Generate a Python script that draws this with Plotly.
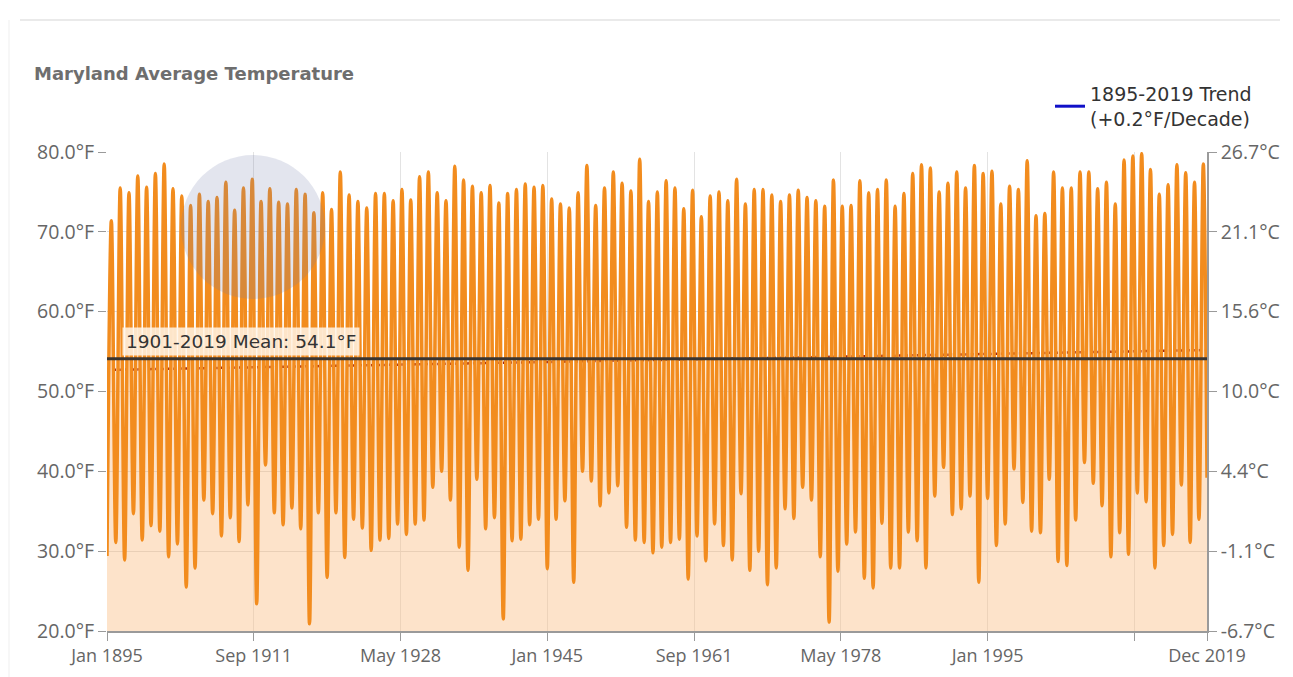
import plotly.graph_objects as go

# ---------------- data ----------------
years = list(range(1895, 2020))

# summer (July) peaks, deg F
july_peak = [
    71.4, 75.5, 74.9, 77.0, 75.6, 77.3, 78.5, 75.4, 74.5, 73.3,
    74.7, 73.8, 74.3, 76.2, 72.7, 75.5, 76.6, 73.8, 75.4, 73.7,
    73.5, 75.3, 74.7, 72.4, 74.9, 72.8, 77.5, 74.6, 73.8, 73.0,
    74.8, 74.8, 73.9, 75.3, 74.0, 76.9, 77.5, 74.9, 73.9, 78.2,
    76.5, 75.7, 74.9, 75.8, 73.6, 74.8, 75.3, 76.0, 75.6, 75.8,
    74.1, 73.5, 73.0, 74.9, 78.3, 73.3, 75.5, 77.5, 76.1, 75.1,
    79.1, 73.8, 75.0, 76.4, 75.5, 72.9, 75.2, 71.9, 74.5, 75.0,
    73.9, 76.6, 73.5, 75.3, 75.3, 74.6, 73.8, 74.6, 75.2, 74.3,
    73.9, 73.2, 76.5, 73.2, 73.3, 76.4, 74.9, 75.3, 76.5, 73.2,
    74.8, 77.3, 78.4, 78.0, 75.0, 76.1, 77.5, 75.5, 78.3, 77.3,
    77.6, 73.5, 75.7, 75.3, 78.9, 72.0, 72.3, 77.5, 75.5, 75.5,
    77.5, 77.5, 75.4, 76.2, 73.5, 79.0, 79.5, 79.8, 77.8, 74.7,
    75.9, 78.4, 77.4, 76.2, 78.5,
]

# winter (January) troughs, deg F
jan_trough = [
    29.4, 31.1, 28.9, 34.7, 31.4, 33.2, 32.5, 29.3, 30.9, 25.5,
    27.9, 36.4, 34.7, 31.9, 34.2, 31.2, 35.8, 23.4, 40.8, 34.8,
    33.3, 35.4, 32.8, 20.9, 34.8, 26.7, 34.8, 29.2, 34.0, 32.9,
    30.1, 31.4, 31.6, 33.4, 32.1, 33.4, 33.9, 38.0, 40.0, 36.4,
    30.5, 27.6, 39.0, 32.8, 34.2, 21.5, 31.3, 31.5, 33.3, 34.0,
    27.8, 34.0, 36.3, 26.1, 40.0, 38.8, 35.7, 37.3, 38.2, 33.0,
    31.4, 31.1, 29.8, 30.5, 31.1, 31.5, 26.5, 31.9, 28.8, 33.4,
    30.7, 28.9, 37.2, 27.6, 30.0, 25.8, 27.9, 35.3, 34.1, 38.0,
    36.4, 29.3, 21.1, 27.5, 30.9, 32.4, 26.6, 25.4, 33.5, 27.9,
    27.9, 32.4, 31.3, 27.9, 36.9, 40.5, 34.6, 35.3, 36.9, 26.1,
    36.6, 30.7, 33.4, 40.3, 36.1, 32.5, 32.3, 39.0, 28.7, 28.2,
    33.9, 41.1, 38.5, 35.7, 29.3, 32.3, 29.6, 37.3, 36.2, 27.9,
    30.7, 32.1, 38.3, 31.1, 34.0,
]

last_month = "2019-12-01"
last_value = 39.2

mean_value = 54.1
mean_label = "1901-2019 Mean: 54.1°F"

trend_dates = ["1895-01-01", "2019-12-01"]
trend_values = [52.7, 55.2]
trend_name = "1895-2019 Trend<br>(+0.2°F/Decade)"

title_text = "Maryland Average Temperature"

x_tick_dates = ["1895-01-01", "1911-09-01", "1928-05-01", "1945-01-01",
                "1961-09-01", "1978-05-01", "1995-01-01", "2011-09-01",
                "2019-12-01"]
x_tick_text = ["Jan 1895", "Sep 1911", "May 1928", "Jan 1945",
               "Sep 1961", "May 1978", "Jan 1995", "", "Dec 2019"]

f_ticks = [20, 30, 40, 50, 60, 70, 80]
f_tick_text = ["20.0°F", "30.0°F", "40.0°F", "50.0°F", "60.0°F", "70.0°F", "80.0°F"]
c_tick_text = ["-6.7°C", "-1.1°C", "4.4°C", "10.0°C", "15.6°C", "21.1°C", "26.7°C"]

# ---------------- build series ----------------
dates, temps = [], []
for y, lo, hi in zip(years, jan_trough, july_peak):
    dates.append(f"{y}-01-01"); temps.append(lo)
    dates.append(f"{y}-07-01"); temps.append(hi)
dates.append(last_month); temps.append(last_value)

# page has an 8px body margin; work in screen pixels and convert
OFF = 8
W, H = 1293, 677
PL, PR, PT, PB = 107, 1207, 152, 631          # plot box in screen pixels
L = PL - OFF
T = PT - OFF
R = W - (PR - OFF)
B = H - (PB - OFF)
pw, ph = PR - PL, PB - PT


def px_x(x):
    return (x - PL) / pw


def px_y(y):
    return (PB - y) / ph


fig = go.Figure()

fig.add_trace(go.Scatter(
    x=trend_dates, y=trend_values, mode="lines",
    line=dict(color="#9a2418", width=2.5, dash="dot"),
    showlegend=False, hoverinfo="skip",
))

fig.add_trace(go.Scatter(
    x=dates, y=temps, mode="lines",
    line=dict(color="#F28C1E", width=3.5, shape="spline", smoothing=1),
    fill="tozeroy", fillcolor="rgba(250,188,128,0.42)",
    showlegend=False, hoverinfo="skip",
))

fig.add_trace(go.Scatter(
    x=[trend_dates[0], trend_dates[1]], y=[mean_value, mean_value], mode="lines",
    line=dict(color="#3b3530", width=3),
    showlegend=False, hoverinfo="skip", yaxis="y2",
))

# legend entry
fig.add_trace(go.Scatter(
    x=[None], y=[None], mode="lines",
    line=dict(color="#1010c8", width=3),
    name=trend_name, showlegend=True,
))

x_font = dict(family="Open Sans, DejaVu Sans, sans-serif", size=18, color="#666666")
y_font = dict(family="Open Sans, DejaVu Sans, sans-serif", size=19.5, color="#666666")

fig.update_layout(
    width=W, height=H,
    margin=dict(l=L, r=R, t=T, b=B, pad=0),
    paper_bgcolor="white", plot_bgcolor="white",
    xaxis=dict(
        type="date", range=["1895-01-01", "2019-12-01"],
        tickvals=x_tick_dates, ticktext=x_tick_text,
        showgrid=True, gridcolor="#e3e3e3", gridwidth=1,
        showline=True, linecolor="#9a9a9a", linewidth=1.5,
        ticks="outside", ticklen=8, tickcolor="#9a9a9a",
        tickfont=x_font, zeroline=False,
    ),
    yaxis=dict(
        range=[20, 80], tickvals=f_ticks, ticktext=f_tick_text,
        showgrid=True, gridcolor="#dddddd", gridwidth=1,
        showline=False,
        ticks="outside", ticklen=8, tickcolor="#9a9a9a",
        tickfont=y_font, zeroline=False,
    ),
    yaxis2=dict(
        range=[20, 80], tickvals=f_ticks, ticktext=c_tick_text,
        overlaying="y", side="right",
        showgrid=False,
        showline=True, linecolor="#9a9a9a", linewidth=1.5,
        ticks="outside", ticklen=8, tickcolor="#9a9a9a",
        tickfont=y_font, zeroline=False,
    ),
    legend=dict(
        x=px_x(1050), y=px_y(75), xanchor="left", yanchor="top",
        font=dict(family="DejaVu Sans, sans-serif", size=19, color="#333333"),
        bgcolor="rgba(0,0,0,0)",
    ),
    showlegend=True,
)

fig.add_annotation(
    text=f"<b>{title_text}</b>", xref="paper", yref="paper",
    x=px_x(32), y=px_y(73), xanchor="left", yanchor="middle",
    showarrow=False,
    font=dict(family="DejaVu Sans, sans-serif", size=18, color="#6e6e6e"),
)

fig.add_annotation(
    text=mean_label, xref="paper", yref="y",
    x=px_x(122), y=mean_value, xanchor="left", yanchor="bottom",
    yshift=3, showarrow=False,
    font=dict(family="DejaVu Sans, sans-serif", size=18.5, color="#333333"),
    bgcolor="rgba(255,244,232,0.85)", borderpad=3,
)

# watermark disc
fig.add_shape(type="circle", xref="paper", yref="paper",
              x0=px_x(181), x1=px_x(325), y0=px_y(299), y1=px_y(155),
              fillcolor="rgba(115,125,170,0.2)", line=dict(width=0),
              layer="above")

# page frame lines
fig.add_shape(type="line", xref="paper", yref="paper",
              x0=px_x(20), x1=px_x(1280), y0=px_y(20), y1=px_y(20),
              line=dict(color="#d5d5d5", width=1))
fig.add_shape(type="line", xref="paper", yref="paper",
              x0=px_x(9), x1=px_x(9), y0=px_y(20), y1=px_y(677),
              line=dict(color="#efefef", width=1))

fig.write_html("out.html")
